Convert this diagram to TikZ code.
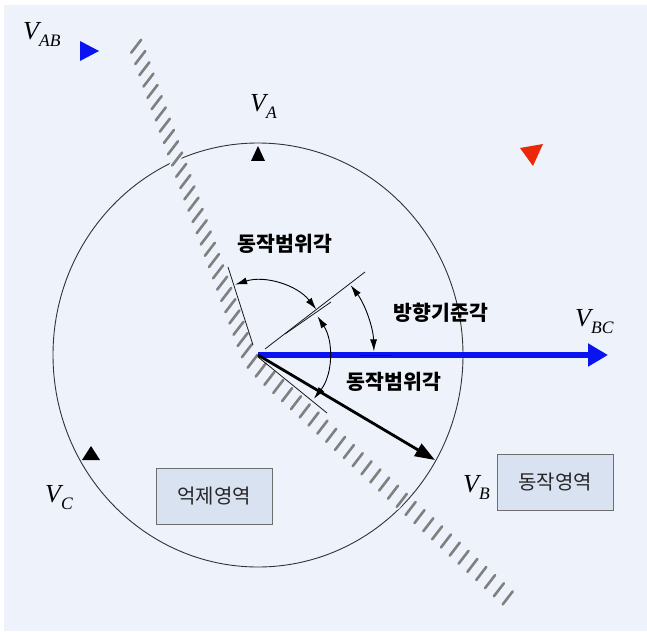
\documentclass[tikz,border=0pt]{standalone}
\usepackage{fontspec}
\setmainfont{Liberation Serif}
\newfontfamily\kr{Noto Sans CJK KR}
\usetikzlibrary{arrows.meta,decorations.markings,calc}
\definecolor{bgc}{RGB}{238,242,250}
\definecolor{boxfill}{RGB}{216,226,240}
\definecolor{boxline}{RGB}{110,110,110}
\definecolor{hatchc}{RGB}{128,128,128}
\definecolor{vblue}{RGB}{10,20,240}
\definecolor{vred}{RGB}{235,40,10}
\newcommand\Vlab[1]{{\fontsize{26}{26}\selectfont\itshape V}\raisebox{-7pt}{\fontsize{17.5}{17.5}\selectfont\itshape #1}}
\begin{document}
\begin{tikzpicture}[x=1pt,y=-1pt,
  circline/.style={draw=black!80,line width=0.9pt},
  thinline/.style={draw=black!90,line width=0.8pt},
  arcarrow/.style={draw=black,line width=0.9pt,{Latex[length=12pt,width=7pt]}-{Latex[length=12pt,width=7pt]}},
  hatchmark/.style={draw=hatchc,line width=2.6pt,line cap=round},
  hatchhalo/.style={draw=bgc,line width=6pt,line cap=round},
  vlabel/.style={anchor=base west,inner sep=0pt},
  krbold/.style={inner sep=0pt,font=\kr\bfseries\fontsize{20.5}{20.5}\selectfont},
  regionbox/.style={draw=boxline,fill=boxfill,line width=0.9pt,minimum width=116pt,minimum height=56pt,inner sep=0pt,text=black!85,font=\kr\fontsize{20}{20}\selectfont},
]
\useasboundingbox (0,0) rectangle (647,631);
\fill[white] (0,0) rectangle (647,631);
\fill[bgc] (4,5) rectangle (647,631);

% circle
\coordinate (O) at (258,355);
\draw[circline] (O) ellipse [x radius=205, y radius=212];

% hatched boundary
\path[decorate,decoration={markings,
  mark=between positions 0.005 and 1 step 12pt with {
    \pgftransformresetnontranslations
    \draw[hatchhalo] (-5,6.5) -- (5,-6.5);
    \draw[hatchmark] (-5,6.5) -- (5,-6.5);}}]
  (135,43) -- (241,335) .. controls (250,360) .. (268,377) -- (510,600);

% reference lines
\coordinate (L1a) at (228,267);
\coordinate (L1b) at (253,345);
\coordinate (L2a) at (265,349);
\coordinate (L2b) at (365,272);
\coordinate (L3a) at (285,334);
\coordinate (L3b) at (331,302);
\coordinate (L4a) at (258,357);
\coordinate (L4b) at (327,413);
\draw[thinline] (L1a) -- (L1b);
\draw[thinline] (L2a) -- (L2b);
\draw[thinline] (L3a) -- (L3b);
\draw[thinline] (L4a) -- (L4b);

% vectors
\coordinate (VBCend) at (608,355);
\coordinate (VBend) at (435,460);
\draw[vblue,line width=5.5pt,-{Triangle[length=20pt,width=22pt]}] (O) -- (VBCend);
\coordinate (Hs) at (360,355);
\coordinate (He) at (392,355);
\draw[thinline] (Hs) -- (He);
\draw[black,line width=2.8pt,-{Triangle[length=20pt,width=14pt]}] (O) -- (VBend);

% angle arcs
\draw[arcarrow] ($(O)+(-108:74)$) arc[start angle=-108,end angle=-38,radius=74];
\draw[arcarrow] ($(O)+(-33:71)$) arc[start angle=-33,end angle=38,radius=71];
\draw[arcarrow] ($(O)+(-37:116)$) arc[start angle=-37,end angle=-1.8,radius=116];

% triangles
\fill[black] (251,161) -- (265,161) -- (258,146) -- cycle;
\fill[black] (82,460) -- (100,460) -- (91,446) -- cycle;
\fill[vblue] (80,41) -- (80,61) -- (99,51) -- cycle;
\fill[vred] (520,148) -- (543,144) -- (533,166) -- cycle;

% labels
\node[vlabel] (vab) at (23,40) {\Vlab{AB}};
\node[vlabel] (va) at (250,112) {\Vlab{A}};
\node[vlabel] (vbc) at (575,326) {\Vlab{BC}};
\node[vlabel] (vc) at (45,502) {\Vlab{C}};
\node[vlabel] (vb) at (463,492) {\Vlab{B}};

\node[krbold] (t1) at (285,244) {동작범위각};
\node[krbold] (t2) at (441,313) {방향기준각};
\node[krbold] (t3) at (394,382) {동작범위각};

\node[regionbox] (box1) at (214,496) {억제영역};
\node[regionbox] (box2) at (555,482.5) {동작영역};
\end{tikzpicture}
\end{document}
